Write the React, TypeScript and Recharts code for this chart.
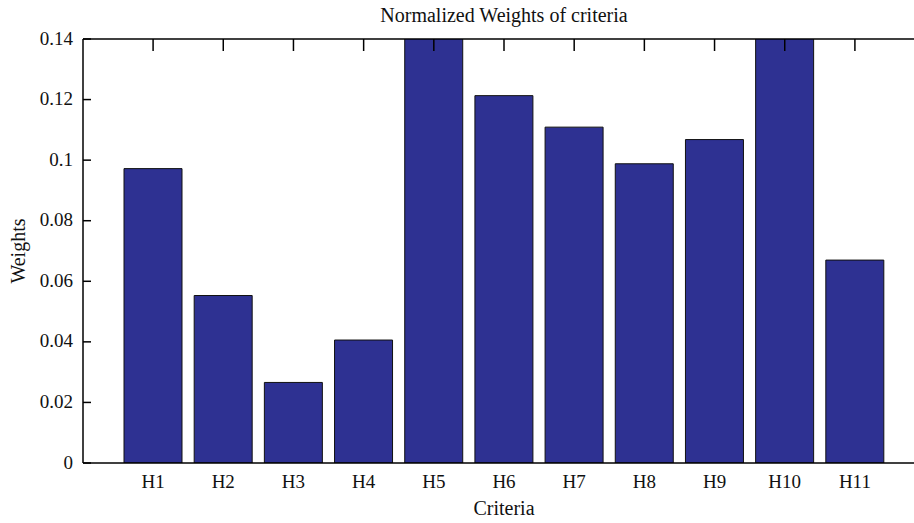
import { Bar, BarChart, XAxis, YAxis } from "recharts"

const categories = ["H1", "H2", "H3", "H4", "H5", "H6", "H7", "H8", "H9", "H10", "H11"]
const weights = [0.0972, 0.0553, 0.0266, 0.0406, 0.15, 0.1213, 0.1109, 0.0988, 0.1068, 0.15, 0.067]
const yTicks = [0, 0.02, 0.04, 0.06, 0.08, 0.1, 0.12, 0.14]

const data = categories.map((name, i) => ({ name, weight: weights[i] }))

const FONT = "'Liberation Serif', 'DejaVu Serif', serif"
const BAR_COLOR = "#2e3192"
const PLOT_TOP = 39

// left axis: inward tick + label
function YTick(props: any) {
  const { x, y, payload } = props
  return (
    <g>
      <path d={`M${x},${y}h8`} stroke="#000" strokeWidth={1.5} fill="none" />
      <text x={x - 10} y={y + 5.5} textAnchor="end" fontSize={19} fontFamily={FONT} fill="#111">
        {String(payload.value)}
      </text>
    </g>
  )
}

// bottom label, plus the mirrored inward tick on the top edge of the box
function XTick(props: any) {
  const { x, y, payload } = props
  return (
    <g>
      <path d={`M${x},${PLOT_TOP}v12`} stroke="#000" strokeWidth={1.5} fill="none" />
      <text x={x} y={y + 25} textAnchor="middle" fontSize={19} fontFamily={FONT} fill="#111">
        {payload.value}
      </text>
    </g>
  )
}

export default function App() {
  return (
    <div
      style={{
        position: "absolute",
        left: 0,
        top: 0,
        width: 914,
        height: 523,
        overflow: "hidden",
        background: "#fff",
      }}
    >
      <BarChart
        width={930}
        height={523}
        data={data}
        margin={{ top: PLOT_TOP, right: 5, left: 0, bottom: 0 }}
      >
        <XAxis
          dataKey="name"
          height={60}
          padding={{ left: 35, right: 35 }}
          axisLine={{ stroke: "#000", strokeWidth: 1.5 }}
          tickLine={false}
          tickSize={0}
          tickMargin={0}
          tick={<XTick />}
          interval={0}
        />
        <YAxis
          width={83}
          domain={[0, 0.14]}
          ticks={yTicks}
          allowDataOverflow
          axisLine={{ stroke: "#000", strokeWidth: 1.5 }}
          tickLine={false}
          tickSize={0}
          tickMargin={0}
          tick={<YTick />}
          interval={0}
        />
        <Bar
          dataKey="weight"
          fill={BAR_COLOR}
          stroke="#111"
          strokeWidth={1}
          barSize={58}
          isAnimationActive={false}
        />
      </BarChart>
      <svg
        width={914}
        height={523}
        style={{ position: "absolute", left: 0, top: 0, pointerEvents: "none" }}
      >
        <line x1={83} x2={914} y1={PLOT_TOP} y2={PLOT_TOP} stroke="#000" strokeWidth={1.5} />
        <text x={504} y={22} textAnchor="middle" fontSize={20} fontFamily={FONT} fill="#111">
          Normalized Weights of criteria
        </text>
        <text x={504} y={515} textAnchor="middle" fontSize={20} fontFamily={FONT} fill="#111">
          Criteria
        </text>
        <text
          x={0}
          y={0}
          transform="translate(25,251) rotate(-90)"
          textAnchor="middle"
          fontSize={20}
          fontFamily={FONT}
          fill="#111"
        >
          Weights
        </text>
      </svg>
    </div>
  )
}
